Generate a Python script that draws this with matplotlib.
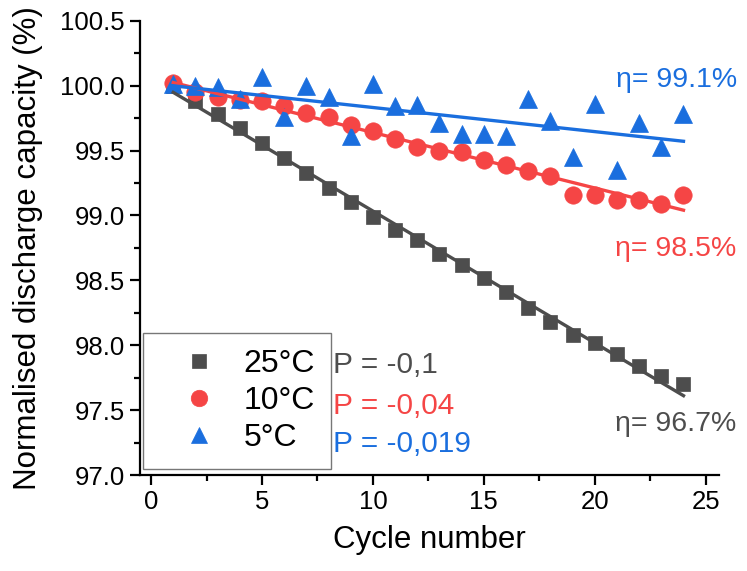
import matplotlib

matplotlib.use("Agg")
import matplotlib.pyplot as plt
import numpy as np
from matplotlib.ticker import MultipleLocator

plt.rcParams["font.family"] = ["Liberation Sans", "DejaVu Sans"]

cycles = np.arange(1, 25)
cap_25 = [100.00, 99.88, 99.78, 99.67, 99.56, 99.44, 99.33, 99.21, 99.10, 98.99,
          98.89, 98.81, 98.70, 98.62, 98.52, 98.41, 98.29, 98.18, 98.08, 98.02,
          97.93, 97.84, 97.76, 97.70]
cap_10 = [100.02, 99.95, 99.91, 99.89, 99.88, 99.84, 99.79, 99.76, 99.70, 99.65,
          99.59, 99.53, 99.50, 99.49, 99.43, 99.39, 99.34, 99.30, 99.16, 99.16,
          99.12, 99.12, 99.09, 99.16]
cap_5 = [100.01, 100.00, 99.99, 99.90, 100.07, 99.76, 100.00, 99.91, 99.61, 100.01,
         99.84, 99.85, 99.71, 99.63, 99.63, 99.61, 99.90, 99.73, 99.45, 99.86,
         99.35, 99.71, 99.53, 99.78]

labels = ["25°C", "10°C", "5°C"]
slopes_txt = ["P = -0,1", "P = -0,04", "P = -0,019"]
eta_txt = ["η= 96.7%", "η= 98.5%", "η= 99.1%"]

SERIES = [
    (cap_25, "s", 10.5, "#4d4d4d"),
    (cap_10, "o", 12.5, "#f54545"),
    (cap_5, "^", 12.5, "#1a6ede"),
]

fig = plt.figure(figsize=(7.47, 5.71), dpi=100)
ax = fig.add_axes([0.1874, 0.1681, 0.7751, 0.7956])

handles = []
for (vals, mk, ms, col), lab in zip(SERIES, labels):
    h, = ax.plot(cycles, vals, ls="none", marker=mk, ms=ms, color=col,
                 mec=col, mew=0.5, label=lab, zorder=3)
    handles.append(h)
    # linear fit drawn over the points
    k, b = np.polyfit(cycles, vals, 1)
    xx = np.array([cycles[0], cycles[-1]])
    ax.plot(xx, k * xx + b, color=col, lw=2.4, zorder=4)

ax.set_xlim(-0.5, 25.6)
ax.set_ylim(97.0, 100.5)
ax.xaxis.set_major_locator(MultipleLocator(5))
ax.xaxis.set_minor_locator(MultipleLocator(2.5))
ax.yaxis.set_major_locator(MultipleLocator(0.5))
ax.yaxis.set_minor_locator(MultipleLocator(0.25))
ax.yaxis.set_major_formatter(matplotlib.ticker.FormatStrFormatter("%.1f"))
ax.spines[["top", "right"]].set_visible(False)
for s in ("left", "bottom"):
    ax.spines[s].set_linewidth(1.6)
ax.tick_params(which="major", direction="out", length=7, width=1.6, labelsize=18.5, pad=4)
ax.tick_params(which="minor", direction="out", length=4, width=1.6)

ax.set_xlabel("Cycle number", fontsize=22.5, labelpad=8)
ax.set_ylabel("Normalised discharge capacity (%)", fontsize=22.5, labelpad=12)

leg = ax.legend(handles=handles, loc="lower left", bbox_to_anchor=(0.005, 0.013),
                borderaxespad=0, fontsize=23, frameon=True, fancybox=False,
                handlelength=2.5, handletextpad=0.15, borderpad=0.5,
                labelspacing=0.22, markerscale=0.95)
leg.get_frame().set_edgecolor("#555555")
leg.get_frame().set_linewidth(1.0)

# slope values beside the legend, efficiency at right
p_y = [97.85, 97.53, 97.24]
eta_y = [97.39, 98.74, 100.04]
for (vals, mk, ms, col), pt, py, et, ey in zip(SERIES, slopes_txt, p_y, eta_txt, eta_y):
    ax.text(8.2, py, pt, color=col, fontsize=21.5, ha="left", va="center")
    ax.text(26.4, ey, et, color=col, fontsize=20.5, ha="right", va="center", clip_on=False)

fig.savefig("out.png", dpi=100)
